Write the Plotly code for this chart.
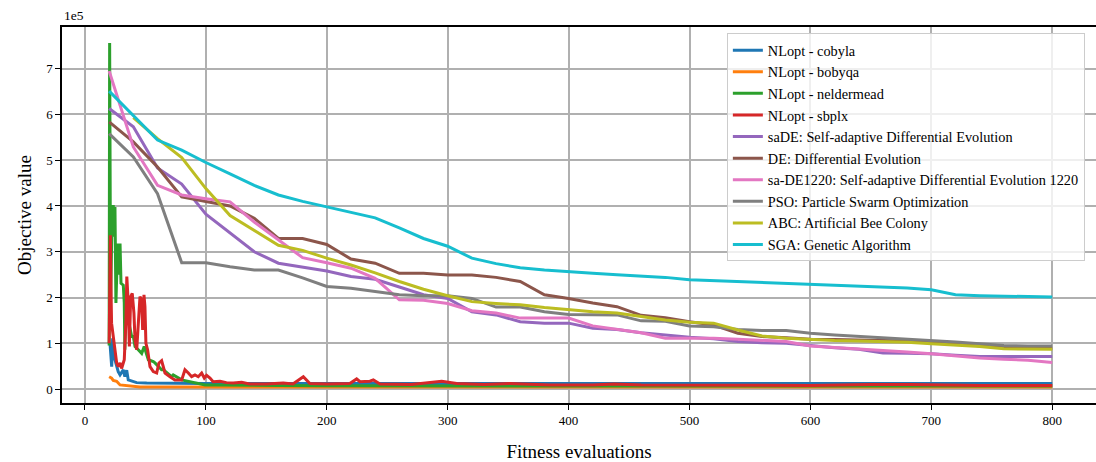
import plotly.graph_objects as go

# ---------------- data (objective values in units of 1e5) ----------------
ea_x = [20, 40, 60, 80, 100, 120, 140, 160, 180, 200,
        220, 240, 260, 280, 300, 320, 340, 360, 380, 400,
        420, 440, 460, 480, 500, 520, 540, 560, 580, 600,
        620, 640, 660, 680, 700, 720, 740, 760, 780, 800]

sga_y = [6.51, 5.98, 5.44, 5.22, 4.95, 4.70, 4.45, 4.24, 4.10, 3.98,
         3.86, 3.74, 3.52, 3.29, 3.12, 2.86, 2.74, 2.65, 2.60, 2.56,
         2.53, 2.50, 2.47, 2.44, 2.39, 2.37, 2.35, 2.33, 2.31, 2.29,
         2.27, 2.25, 2.23, 2.21, 2.17, 2.06, 2.04, 2.03, 2.02, 2.01]

sade_y = [6.13, 5.73, 4.83, 4.48, 3.82, 3.42, 3.00, 2.75, 2.66, 2.58,
          2.46, 2.40, 2.23, 2.06, 1.98, 1.69, 1.62, 1.47, 1.44, 1.44,
          1.33, 1.30, 1.23, 1.18, 1.13, 1.10, 1.04, 1.01, 1.00, 0.95,
          0.90, 0.87, 0.79, 0.78, 0.77, 0.74, 0.71, 0.71, 0.71, 0.71]

de_y = [5.84, 5.40, 4.85, 4.20, 4.10, 4.00, 3.73, 3.29, 3.29, 3.16,
        2.84, 2.75, 2.53, 2.53, 2.49, 2.49, 2.44, 2.35, 2.06, 1.98,
        1.88, 1.80, 1.61, 1.56, 1.47, 1.40, 1.22, 1.15, 1.12, 1.09,
        1.08, 1.07, 1.07, 1.05, 1.02, 0.98, 0.94, 0.91, 0.89, 0.89]

sade1220_y = [6.95, 5.29, 4.45, 4.24, 4.16, 4.09, 3.65, 3.25, 2.87, 2.76,
              2.64, 2.42, 1.95, 1.94, 1.87, 1.71, 1.66, 1.55, 1.55, 1.55,
              1.38, 1.31, 1.23, 1.11, 1.11, 1.11, 1.09, 1.06, 1.04, 0.94,
              0.91, 0.88, 0.85, 0.81, 0.77, 0.72, 0.68, 0.65, 0.63, 0.58]

pso_y = [5.58, 5.07, 4.27, 2.76, 2.76, 2.67, 2.60, 2.60, 2.43, 2.24,
         2.20, 2.13, 2.06, 2.04, 2.04, 1.98, 1.79, 1.79, 1.69, 1.63,
         1.62, 1.62, 1.49, 1.48, 1.38, 1.36, 1.30, 1.28, 1.28, 1.22,
         1.18, 1.15, 1.13, 1.10, 1.06, 1.03, 0.99, 0.95, 0.94, 0.94]

abc_x = ea_x[1:]
abc_y = [5.93, 5.47, 5.06, 4.38, 3.79, 3.47, 3.14, 3.03, 2.86,
         2.71, 2.54, 2.35, 2.18, 2.04, 1.91, 1.87, 1.84, 1.78, 1.73,
         1.69, 1.66, 1.58, 1.51, 1.46, 1.44, 1.29, 1.16, 1.11, 1.08,
         1.06, 1.05, 1.04, 1.02, 0.99, 0.96, 0.93, 0.88, 0.87, 0.87]

cobyla_x = [20, 20.7, 22.1, 22.9, 24.8, 26.2, 27.5, 29, 30.3, 31.7, 33, 34.5,
            35.8, 38.6, 42.7, 51, 70, 100, 200, 400, 600, 800]
cobyla_y = [0.98, 1.00, 0.49, 1.11, 0.64, 0.49, 0.38, 0.31, 0.38, 0.42, 0.27, 0.41,
            0.20, 0.17, 0.14, 0.13, 0.125, 0.12, 0.12, 0.12, 0.12, 0.12]

bobyqa_x = [20, 22, 23.4, 26.2, 29, 34.5, 45.5, 60, 100, 200, 400, 600, 800]
bobyqa_y = [0.27, 0.24, 0.19, 0.17, 0.09, 0.07, 0.045, 0.045, 0.045, 0.045, 0.045, 0.045, 0.045]

nelder_x = [20, 20.4, 21.2, 22.3, 23.4, 24.3, 24.8, 25.6, 27, 28.1, 29, 29.8,
            31.7, 32.5, 33, 33.8, 35.8, 38.6, 40, 41.4, 44.1, 46.9, 49, 52.4,
            56.5, 57.9, 63.4, 64.8, 71.7, 73, 80, 91, 99.3, 109, 130, 160, 200,
            260, 350, 450, 600, 800]
nelder_y = [0.95, 7.56, 1.90, 3.60, 4.02, 3.33, 3.98, 1.88, 3.18, 2.50, 3.18, 2.31,
            2.27, 1.88, 0.86, 1.70, 1.51, 1.15, 1.15, 0.93, 0.86, 0.78, 0.93, 0.64,
            0.60, 0.57, 0.42, 0.42, 0.27, 0.31, 0.20, 0.14, 0.09, 0.09, 0.08, 0.08, 0.07,
            0.07, 0.07, 0.07, 0.065, 0.065]

sbplx_x = [20, 21, 21.5, 22, 23.4, 24.8, 26.2, 27.6, 29, 30.3, 30.9, 32.5, 33.9,
           34.6, 35.8, 36.7, 37.8, 39.1, 40.5, 41.4, 42.8, 44.1, 45.5, 46.9, 47.7,
           48.8, 49.6, 50.4, 51.8, 53.8, 56.5, 59.3, 61.2, 63.4, 64.8, 66.2, 70.3,
           74.4, 80, 82.7, 85.5, 88.2, 91, 93.7, 96.5, 98.7, 100.6, 103.4, 106, 109,
           111.7, 117, 122.7, 129.6, 136, 150, 164, 172, 180.6, 186, 200, 219, 224.7,
           227.5, 235.7, 238.5, 244, 270, 295, 307.5, 330, 351.5, 384.6, 420, 437.6,
           460, 500, 560, 600, 650, 682, 740, 800]
sbplx_y = [1.00, 3.36, 2.20, 1.44, 1.15, 0.86, 0.57, 0.49, 0.57, 0.45, 0.49, 0.64, 1.51,
           2.46, 1.88, 0.93, 2.02, 2.09, 1.66, 1.07, 0.86, 1.44, 2.02, 1.95, 1.29,
           2.06, 1.80, 1.00, 0.86, 0.49, 0.38, 0.35, 0.57, 0.62, 0.49, 0.35, 0.27,
           0.20, 0.20, 0.42, 0.35, 0.27, 0.31, 0.27, 0.35, 0.24, 0.30, 0.24, 0.16, 0.17,
           0.17, 0.14, 0.13, 0.15, 0.11, 0.11, 0.13, 0.11, 0.27, 0.12, 0.11, 0.12, 0.22,
           0.16, 0.17, 0.20, 0.11, 0.10, 0.17, 0.12, 0.10, 0.12, 0.09, 0.09, 0.11,
           0.09, 0.09, 0.08, 0.08, 0.10, 0.10, 0.08, 0.08]

series = [
    ("NLopt - cobyla", cobyla_x, cobyla_y, "#1f77b4"),
    ("NLopt - bobyqa", bobyqa_x, bobyqa_y, "#ff7f0e"),
    ("NLopt - neldermead", nelder_x, nelder_y, "#2ca02c"),
    ("NLopt - sbplx", sbplx_x, sbplx_y, "#d62728"),
    ("saDE: Self-adaptive Differential Evolution", ea_x, sade_y, "#9467bd"),
    ("DE: Differential Evolution", ea_x, de_y, "#8c564b"),
    ("sa-DE1220: Self-adaptive Differential Evolution 1220", ea_x, sade1220_y, "#e377c2"),
    ("PSO: Particle Swarm Optimization", ea_x, pso_y, "#7f7f7f"),
    ("ABC: Artificial Bee Colony", abc_x, abc_y, "#bcbd22"),
    ("SGA: Genetic Algorithm", ea_x, sga_y, "#17becf"),
]

y_ticks = [0, 1, 2, 3, 4, 5, 6, 7]
x_ticks = [0, 100, 200, 300, 400, 500, 600, 700, 800]

FONT = "Liberation Serif, Times New Roman, serif"

fig = go.Figure()
for name, xs, ys, col in series:
    fig.add_trace(go.Scatter(x=xs, y=ys, mode="lines", name=name,
                             line=dict(color=col, width=3)))

fig.update_layout(
    width=1096, height=462,
    margin=dict(l=62, r=0, t=27, b=59, autoexpand=False),
    paper_bgcolor="white", plot_bgcolor="white",
    font=dict(family=FONT, size=13, color="black"),
    showlegend=True,
    legend=dict(x=0.643, y=0.983, xanchor="left", yanchor="top",
                bgcolor="rgba(255,255,255,0.8)", bordercolor="#cccccc", borderwidth=1,
                font=dict(family=FONT, size=14.3)),
    annotations=[dict(text="1e5", xref="paper", yref="paper", x=0, y=1,
                      xanchor="left", yanchor="bottom", yshift=2, showarrow=False,
                      font=dict(family=FONT, size=13.5))],
)
fig.update_xaxes(range=[-19.0, 836.2], tickvals=x_ticks, ticks="outside", ticklen=5,
                 tickwidth=1.2, tickcolor="black", showline=True, linecolor="black",
                 linewidth=1.5, mirror=True, showgrid=True, gridcolor="#b0b0b0",
                 gridwidth=1.6, zeroline=False, automargin=False,
                 title=dict(text="Fitness evaluations", font=dict(size=19), standoff=18))
fig.update_yaxes(range=[-0.305, 7.911], tickvals=y_ticks, ticks="outside", ticklen=5,
                 tickwidth=1.2, tickcolor="black", showline=True, linecolor="black",
                 linewidth=1.5, mirror=False, showgrid=True, gridcolor="#b0b0b0",
                 gridwidth=1.6, zeroline=False, automargin=False,
                 title=dict(text="Objective value", font=dict(size=19), standoff=10))

fig.write_html("out.html", config={"displayModeBar": False},
               post_script="document.body.style.margin='0px';document.body.style.overflow='hidden';")
